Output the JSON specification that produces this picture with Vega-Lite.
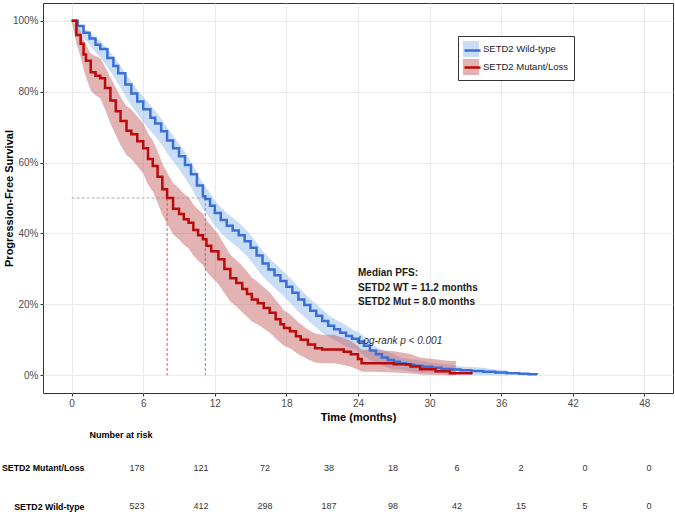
{
"$schema": "https://vega.github.io/schema/vega-lite/v6.json",
"padding": {"left": 1, "top": 2, "right": 0, "bottom": 0},
"spacing": 7,
"config": {
 "font": "Liberation Sans",
 "view": {"stroke": "#333333", "strokeWidth": 1},
 "axis": {"gridColor": "#ebebeb", "gridWidth": 1, "tickColor": "#333333", "tickSize": 3, "labelColor": "#4d4d4d", "labelFontSize": 10, "labelPadding": 2, "titleFontSize": 11, "titleFontWeight": "bold", "titleColor": "#000000", "domain": false}
},
"datasets": {
 "curves": [
  {"group":"SETD2 Wild-type","t":0,"s":1.0,"lo":1.0,"hi":1.0},
  {"group":"SETD2 Wild-type","t":0.5,"s":0.985,"lo":0.977,"hi":0.993},
  {"group":"SETD2 Wild-type","t":1.0,"s":0.966,"lo":0.952,"hi":0.98},
  {"group":"SETD2 Wild-type","t":1.5,"s":0.95,"lo":0.932,"hi":0.968},
  {"group":"SETD2 Wild-type","t":2.0,"s":0.932,"lo":0.911,"hi":0.953},
  {"group":"SETD2 Wild-type","t":2.4,"s":0.92,"lo":0.897,"hi":0.943},
  {"group":"SETD2 Wild-type","t":3.0,"s":0.895,"lo":0.869,"hi":0.921},
  {"group":"SETD2 Wild-type","t":3.5,"s":0.872,"lo":0.844,"hi":0.9},
  {"group":"SETD2 Wild-type","t":3.9,"s":0.852,"lo":0.822,"hi":0.882},
  {"group":"SETD2 Wild-type","t":4.5,"s":0.82,"lo":0.788,"hi":0.852},
  {"group":"SETD2 Wild-type","t":5.0,"s":0.795,"lo":0.761,"hi":0.829},
  {"group":"SETD2 Wild-type","t":5.5,"s":0.772,"lo":0.738,"hi":0.806},
  {"group":"SETD2 Wild-type","t":6.0,"s":0.75,"lo":0.714,"hi":0.786},
  {"group":"SETD2 Wild-type","t":6.6,"s":0.726,"lo":0.69,"hi":0.762},
  {"group":"SETD2 Wild-type","t":7.0,"s":0.71,"lo":0.674,"hi":0.746},
  {"group":"SETD2 Wild-type","t":7.5,"s":0.688,"lo":0.652,"hi":0.724},
  {"group":"SETD2 Wild-type","t":8.0,"s":0.662,"lo":0.626,"hi":0.698},
  {"group":"SETD2 Wild-type","t":8.5,"s":0.64,"lo":0.604,"hi":0.676},
  {"group":"SETD2 Wild-type","t":9.0,"s":0.618,"lo":0.582,"hi":0.654},
  {"group":"SETD2 Wild-type","t":9.5,"s":0.593,"lo":0.557,"hi":0.629},
  {"group":"SETD2 Wild-type","t":10.0,"s":0.567,"lo":0.531,"hi":0.603},
  {"group":"SETD2 Wild-type","t":10.5,"s":0.535,"lo":0.499,"hi":0.571},
  {"group":"SETD2 Wild-type","t":11.0,"s":0.505,"lo":0.469,"hi":0.541},
  {"group":"SETD2 Wild-type","t":11.2,"s":0.497,"lo":0.461,"hi":0.533},
  {"group":"SETD2 Wild-type","t":11.6,"s":0.478,"lo":0.442,"hi":0.514},
  {"group":"SETD2 Wild-type","t":12.0,"s":0.458,"lo":0.422,"hi":0.494},
  {"group":"SETD2 Wild-type","t":12.5,"s":0.438,"lo":0.402,"hi":0.474},
  {"group":"SETD2 Wild-type","t":13.0,"s":0.422,"lo":0.386,"hi":0.458},
  {"group":"SETD2 Wild-type","t":13.5,"s":0.408,"lo":0.372,"hi":0.444},
  {"group":"SETD2 Wild-type","t":14.0,"s":0.395,"lo":0.359,"hi":0.431},
  {"group":"SETD2 Wild-type","t":14.5,"s":0.378,"lo":0.342,"hi":0.414},
  {"group":"SETD2 Wild-type","t":15.0,"s":0.36,"lo":0.324,"hi":0.396},
  {"group":"SETD2 Wild-type","t":15.5,"s":0.338,"lo":0.302,"hi":0.374},
  {"group":"SETD2 Wild-type","t":16.0,"s":0.315,"lo":0.279,"hi":0.351},
  {"group":"SETD2 Wild-type","t":16.5,"s":0.298,"lo":0.263,"hi":0.333},
  {"group":"SETD2 Wild-type","t":17.0,"s":0.282,"lo":0.247,"hi":0.317},
  {"group":"SETD2 Wild-type","t":17.5,"s":0.266,"lo":0.231,"hi":0.301},
  {"group":"SETD2 Wild-type","t":18.0,"s":0.25,"lo":0.215,"hi":0.285},
  {"group":"SETD2 Wild-type","t":18.5,"s":0.233,"lo":0.198,"hi":0.268},
  {"group":"SETD2 Wild-type","t":19.0,"s":0.214,"lo":0.179,"hi":0.249},
  {"group":"SETD2 Wild-type","t":19.5,"s":0.198,"lo":0.165,"hi":0.231},
  {"group":"SETD2 Wild-type","t":20.0,"s":0.182,"lo":0.149,"hi":0.215},
  {"group":"SETD2 Wild-type","t":20.5,"s":0.168,"lo":0.135,"hi":0.201},
  {"group":"SETD2 Wild-type","t":21.0,"s":0.153,"lo":0.12,"hi":0.186},
  {"group":"SETD2 Wild-type","t":21.5,"s":0.14,"lo":0.11,"hi":0.17},
  {"group":"SETD2 Wild-type","t":22.0,"s":0.13,"lo":0.1,"hi":0.16},
  {"group":"SETD2 Wild-type","t":22.5,"s":0.12,"lo":0.09,"hi":0.15},
  {"group":"SETD2 Wild-type","t":23.0,"s":0.111,"lo":0.081,"hi":0.141},
  {"group":"SETD2 Wild-type","t":23.5,"s":0.103,"lo":0.076,"hi":0.13},
  {"group":"SETD2 Wild-type","t":24.0,"s":0.095,"lo":0.068,"hi":0.122},
  {"group":"SETD2 Wild-type","t":24.5,"s":0.083,"lo":0.056,"hi":0.11},
  {"group":"SETD2 Wild-type","t":25.0,"s":0.07,"lo":0.043,"hi":0.097},
  {"group":"SETD2 Wild-type","t":25.5,"s":0.059,"lo":0.037,"hi":0.081},
  {"group":"SETD2 Wild-type","t":26.0,"s":0.05,"lo":0.028,"hi":0.072},
  {"group":"SETD2 Wild-type","t":26.5,"s":0.043,"lo":0.021,"hi":0.065},
  {"group":"SETD2 Wild-type","t":27.0,"s":0.038,"lo":0.016,"hi":0.06},
  {"group":"SETD2 Wild-type","t":27.5,"s":0.034,"lo":0.017,"hi":0.051},
  {"group":"SETD2 Wild-type","t":28.0,"s":0.03,"lo":0.013,"hi":0.047},
  {"group":"SETD2 Wild-type","t":28.7,"s":0.027,"lo":0.01,"hi":0.044},
  {"group":"SETD2 Wild-type","t":29.4,"s":0.024,"lo":0.007,"hi":0.041},
  {"group":"SETD2 Wild-type","t":30.2,"s":0.021,"lo":0.007,"hi":0.035},
  {"group":"SETD2 Wild-type","t":31.0,"s":0.018,"lo":0.004,"hi":0.032},
  {"group":"SETD2 Wild-type","t":31.8,"s":0.016,"lo":0.002,"hi":0.03},
  {"group":"SETD2 Wild-type","t":32.6,"s":0.014,"lo":0.003,"hi":0.025},
  {"group":"SETD2 Wild-type","t":33.5,"s":0.012,"lo":0.001,"hi":0.023},
  {"group":"SETD2 Wild-type","t":34.5,"s":0.01,"lo":0.0,"hi":0.021},
  {"group":"SETD2 Wild-type","t":35.5,"s":0.008,"lo":0.0,"hi":0.016},
  {"group":"SETD2 Wild-type","t":36.5,"s":0.006,"lo":0.0,"hi":0.014},
  {"group":"SETD2 Wild-type","t":37.5,"s":0.004,"lo":null,"hi":null},
  {"group":"SETD2 Wild-type","t":38.3,"s":0.003,"lo":null,"hi":null},
  {"group":"SETD2 Wild-type","t":39.0,"s":0.002,"lo":null,"hi":null},
  {"group":"SETD2 Mutant/Loss","t":0,"s":1.0,"lo":1.0,"hi":1.0},
  {"group":"SETD2 Mutant/Loss","t":0.4,"s":0.96,"lo":0.935,"hi":0.985},
  {"group":"SETD2 Mutant/Loss","t":0.75,"s":0.935,"lo":0.9,"hi":0.97},
  {"group":"SETD2 Mutant/Loss","t":1.0,"s":0.905,"lo":0.863,"hi":0.947},
  {"group":"SETD2 Mutant/Loss","t":1.2,"s":0.887,"lo":0.841,"hi":0.933},
  {"group":"SETD2 Mutant/Loss","t":1.6,"s":0.855,"lo":0.803,"hi":0.907},
  {"group":"SETD2 Mutant/Loss","t":2.0,"s":0.845,"lo":0.79,"hi":0.9},
  {"group":"SETD2 Mutant/Loss","t":2.4,"s":0.838,"lo":0.781,"hi":0.895},
  {"group":"SETD2 Mutant/Loss","t":2.8,"s":0.81,"lo":0.75,"hi":0.87},
  {"group":"SETD2 Mutant/Loss","t":3.25,"s":0.775,"lo":0.71,"hi":0.84},
  {"group":"SETD2 Mutant/Loss","t":3.7,"s":0.745,"lo":0.678,"hi":0.812},
  {"group":"SETD2 Mutant/Loss","t":4.1,"s":0.717,"lo":0.649,"hi":0.785},
  {"group":"SETD2 Mutant/Loss","t":4.6,"s":0.69,"lo":0.621,"hi":0.759},
  {"group":"SETD2 Mutant/Loss","t":5.0,"s":0.68,"lo":0.61,"hi":0.75},
  {"group":"SETD2 Mutant/Loss","t":5.5,"s":0.66,"lo":0.59,"hi":0.73},
  {"group":"SETD2 Mutant/Loss","t":6.0,"s":0.64,"lo":0.569,"hi":0.711},
  {"group":"SETD2 Mutant/Loss","t":6.4,"s":0.61,"lo":0.538,"hi":0.682},
  {"group":"SETD2 Mutant/Loss","t":6.8,"s":0.59,"lo":0.518,"hi":0.662},
  {"group":"SETD2 Mutant/Loss","t":7.2,"s":0.56,"lo":0.488,"hi":0.632},
  {"group":"SETD2 Mutant/Loss","t":7.6,"s":0.525,"lo":0.453,"hi":0.597},
  {"group":"SETD2 Mutant/Loss","t":8.0,"s":0.5,"lo":0.428,"hi":0.572},
  {"group":"SETD2 Mutant/Loss","t":8.5,"s":0.47,"lo":0.398,"hi":0.542},
  {"group":"SETD2 Mutant/Loss","t":9.0,"s":0.455,"lo":0.383,"hi":0.527},
  {"group":"SETD2 Mutant/Loss","t":9.4,"s":0.44,"lo":0.368,"hi":0.512},
  {"group":"SETD2 Mutant/Loss","t":9.8,"s":0.43,"lo":0.358,"hi":0.502},
  {"group":"SETD2 Mutant/Loss","t":10.2,"s":0.41,"lo":0.338,"hi":0.482},
  {"group":"SETD2 Mutant/Loss","t":10.6,"s":0.395,"lo":0.323,"hi":0.467},
  {"group":"SETD2 Mutant/Loss","t":11.0,"s":0.384,"lo":0.312,"hi":0.456},
  {"group":"SETD2 Mutant/Loss","t":11.3,"s":0.365,"lo":0.293,"hi":0.437},
  {"group":"SETD2 Mutant/Loss","t":11.7,"s":0.35,"lo":0.278,"hi":0.422},
  {"group":"SETD2 Mutant/Loss","t":12.3,"s":0.327,"lo":0.257,"hi":0.397},
  {"group":"SETD2 Mutant/Loss","t":12.8,"s":0.3,"lo":0.232,"hi":0.368},
  {"group":"SETD2 Mutant/Loss","t":13.3,"s":0.274,"lo":0.208,"hi":0.34},
  {"group":"SETD2 Mutant/Loss","t":13.8,"s":0.26,"lo":0.195,"hi":0.325},
  {"group":"SETD2 Mutant/Loss","t":14.3,"s":0.243,"lo":0.178,"hi":0.308},
  {"group":"SETD2 Mutant/Loss","t":14.7,"s":0.229,"lo":0.165,"hi":0.293},
  {"group":"SETD2 Mutant/Loss","t":15.1,"s":0.214,"lo":0.152,"hi":0.276},
  {"group":"SETD2 Mutant/Loss","t":15.6,"s":0.203,"lo":0.143,"hi":0.263},
  {"group":"SETD2 Mutant/Loss","t":16.1,"s":0.19,"lo":0.132,"hi":0.248},
  {"group":"SETD2 Mutant/Loss","t":16.6,"s":0.176,"lo":0.12,"hi":0.234},
  {"group":"SETD2 Mutant/Loss","t":17.1,"s":0.158,"lo":0.104,"hi":0.212},
  {"group":"SETD2 Mutant/Loss","t":17.5,"s":0.144,"lo":0.092,"hi":0.196},
  {"group":"SETD2 Mutant/Loss","t":17.8,"s":0.133,"lo":0.083,"hi":0.183},
  {"group":"SETD2 Mutant/Loss","t":18.3,"s":0.124,"lo":0.076,"hi":0.172},
  {"group":"SETD2 Mutant/Loss","t":18.8,"s":0.11,"lo":0.064,"hi":0.156},
  {"group":"SETD2 Mutant/Loss","t":19.2,"s":0.1,"lo":0.056,"hi":0.144},
  {"group":"SETD2 Mutant/Loss","t":19.8,"s":0.087,"lo":0.045,"hi":0.129},
  {"group":"SETD2 Mutant/Loss","t":20.4,"s":0.076,"lo":0.036,"hi":0.118},
  {"group":"SETD2 Mutant/Loss","t":21.0,"s":0.073,"lo":0.034,"hi":0.114},
  {"group":"SETD2 Mutant/Loss","t":22.0,"s":0.073,"lo":0.034,"hi":0.114},
  {"group":"SETD2 Mutant/Loss","t":22.8,"s":0.066,"lo":0.029,"hi":0.105},
  {"group":"SETD2 Mutant/Loss","t":23.4,"s":0.059,"lo":0.024,"hi":0.097},
  {"group":"SETD2 Mutant/Loss","t":24.0,"s":0.046,"lo":0.016,"hi":0.082},
  {"group":"SETD2 Mutant/Loss","t":24.3,"s":0.034,"lo":0.01,"hi":0.072},
  {"group":"SETD2 Mutant/Loss","t":25.5,"s":0.034,"lo":0.01,"hi":0.072},
  {"group":"SETD2 Mutant/Loss","t":27.0,"s":0.031,"lo":0.008,"hi":0.068},
  {"group":"SETD2 Mutant/Loss","t":28.4,"s":0.025,"lo":0.005,"hi":0.06},
  {"group":"SETD2 Mutant/Loss","t":29.2,"s":0.017,"lo":0.002,"hi":0.05},
  {"group":"SETD2 Mutant/Loss","t":30.5,"s":0.011,"lo":0.001,"hi":0.045},
  {"group":"SETD2 Mutant/Loss","t":31.7,"s":0.006,"lo":0.0,"hi":0.04},
  {"group":"SETD2 Mutant/Loss","t":32.2,"s":0.006,"lo":0.0,"hi":0.04},
  {"group":"SETD2 Mutant/Loss","t":33.6,"s":0.006,"lo":null,"hi":null}
 ],
 "risk": [
  {"group":"SETD2 Mutant/Loss","col":0,"n":178},
  {"group":"SETD2 Mutant/Loss","col":1,"n":121},
  {"group":"SETD2 Mutant/Loss","col":2,"n":72},
  {"group":"SETD2 Mutant/Loss","col":3,"n":38},
  {"group":"SETD2 Mutant/Loss","col":4,"n":18},
  {"group":"SETD2 Mutant/Loss","col":5,"n":6},
  {"group":"SETD2 Mutant/Loss","col":6,"n":2},
  {"group":"SETD2 Mutant/Loss","col":7,"n":0},
  {"group":"SETD2 Mutant/Loss","col":8,"n":0},
  {"group":"SETD2 Wild-type","col":0,"n":523},
  {"group":"SETD2 Wild-type","col":1,"n":412},
  {"group":"SETD2 Wild-type","col":2,"n":298},
  {"group":"SETD2 Wild-type","col":3,"n":187},
  {"group":"SETD2 Wild-type","col":4,"n":98},
  {"group":"SETD2 Wild-type","col":5,"n":42},
  {"group":"SETD2 Wild-type","col":6,"n":15},
  {"group":"SETD2 Wild-type","col":7,"n":5},
  {"group":"SETD2 Wild-type","col":8,"n":0}
 ]
},
"vconcat": [
 {
  "width": 630,
  "height": 390,
  "layer": [
   {
    "data": {"values": [{"t": 0, "t2": 11.2, "s": 0.5}]},
    "mark": {"type": "rule", "color": "#aaaaaa", "strokeDash": [3, 2], "strokeWidth": 1},
    "encoding": {
     "x": {"field": "t", "type": "quantitative", "scale": {"domain": [-2.4, 50.4], "nice": false, "zero": false}, "axis": {"values": [0, 6, 12, 18, 24, 30, 36, 42, 48], "title": "Time (months)", "titlePadding": 3}},
     "x2": {"field": "t2"},
     "y": {"field": "s", "type": "quantitative", "scale": {"domain": [-0.05, 1.05], "nice": false, "zero": false}, "axis": {"values": [0, 0.2, 0.4, 0.6, 0.8, 1.0], "format": ".0%", "title": "Progression-Free Survival", "titleX": -29}}
    }
   },
   {
    "data": {"values": [{"t": 8.0, "s": 0.5, "s2": 0}]},
    "mark": {"type": "rule", "color": "#e05555", "strokeDash": [3, 2], "strokeWidth": 1},
    "encoding": {"x": {"field": "t", "type": "quantitative"}, "y": {"field": "s", "type": "quantitative"}, "y2": {"field": "s2"}}
   },
   {
    "data": {"values": [{"t": 11.2, "s": 0.5, "s2": 0}]},
    "mark": {"type": "rule", "color": "#5b8fe3", "strokeDash": [3, 2], "strokeWidth": 1},
    "encoding": {"x": {"field": "t", "type": "quantitative"}, "y": {"field": "s", "type": "quantitative"}, "y2": {"field": "s2"}}
   },
   {
    "data": {"name": "curves"},
    "transform": [{"filter": "isValid(datum.lo)"}],
    "mark": {"type": "area", "interpolate": "linear", "fillOpacity": 0.45},
    "encoding": {
     "x": {"field": "t", "type": "quantitative"},
     "y": {"field": "lo", "type": "quantitative"},
     "y2": {"field": "hi"},
     "fill": {"field": "group", "type": "nominal", "sort": "descending", "scale": {"range": ["#8ab4ee", "#c25555"]},
      "legend": {"title": null, "orient": "none", "legendX": 415, "legendY": 33, "symbolType": "square", "symbolSize": 256, "symbolStrokeWidth": 0, "symbolOpacity": 0.45, "labelFontSize": 9.5, "labelColor": "#222222", "labelOffset": 4, "padding": 5, "rowPadding": 2, "strokeColor": "#333333", "fillColor": "white"}}
    }
   },
   {
    "data": {"name": "curves"},
    "mark": {"type": "line", "interpolate": "step-after", "strokeWidth": 2.5},
    "encoding": {
     "x": {"field": "t", "type": "quantitative"},
     "y": {"field": "s", "type": "quantitative"},
     "stroke": {"field": "group", "type": "nominal", "scale": {"domain": ["SETD2 Wild-type", "SETD2 Mutant/Loss"], "range": ["#3a6fd6", "#bb0a0a"]},
      "legend": {"title": null, "orient": "none", "legendX": 415, "legendY": 33, "symbolType": "stroke", "symbolSize": 256, "symbolStrokeWidth": 2.5, "labelFontSize": 9.5, "labelExpr": "''", "labelOffset": 4, "padding": 5, "rowPadding": 2}}
    }
   },
   {
    "data": {"values": [
     {"t": 24.0, "s": 0.288, "label": "Median PFS:"},
     {"t": 24.0, "s": 0.247, "label": "SETD2 WT = 11.2 months"},
     {"t": 24.0, "s": 0.207, "label": "SETD2 Mut = 8.0 months"}
    ]},
    "mark": {"type": "text", "align": "left", "baseline": "middle", "fontSize": 10, "fontWeight": "bold", "color": "#1a1a1a"},
    "encoding": {"x": {"field": "t", "type": "quantitative"}, "y": {"field": "s", "type": "quantitative"}, "text": {"field": "label"}}
   },
   {
    "data": {"values": [{"t": 24.0, "s": 0.096, "label": "Log-rank p < 0.001"}]},
    "mark": {"type": "text", "align": "left", "baseline": "middle", "fontSize": 10, "fontStyle": "italic", "color": "#333333"},
    "encoding": {"x": {"field": "t", "type": "quantitative"}, "y": {"field": "s", "type": "quantitative"}, "text": {"field": "label"}}
   }
  ]
 },
 {
  "data": {"name": "risk"},
  "width": 630,
  "height": 60,
  "view": {"stroke": null},
  "mark": {"type": "text", "fontSize": 9, "color": "#333333"},
  "encoding": {
   "x": {"field": "col", "type": "quantitative", "scale": {"domain": [-1.47, 8.375], "nice": false, "zero": false},
    "axis": {"orient": "top", "labels": false, "ticks": false, "domain": false, "grid": false, "title": "Number at risk", "titleX": 46, "titleY": -22.5, "titleAlign": "left", "titleBaseline": "middle", "titleFontSize": 9, "titleFontWeight": "bold"}},
   "y": {"field": "group", "type": "nominal", "scale": {"type": "point", "padding": 0.27, "domain": ["SETD2 Mutant/Loss", "SETD2 Wild-type"]}, "axis": {"title": null, "domain": false, "ticks": false, "tickSize": 0, "grid": false, "labelPadding": 0, "offset": -41, "labelFontWeight": "bold", "labelFontSize": 8.8, "labelColor": "#000000"}},
   "text": {"field": "n", "type": "quantitative"}
  }
 }
]
}
